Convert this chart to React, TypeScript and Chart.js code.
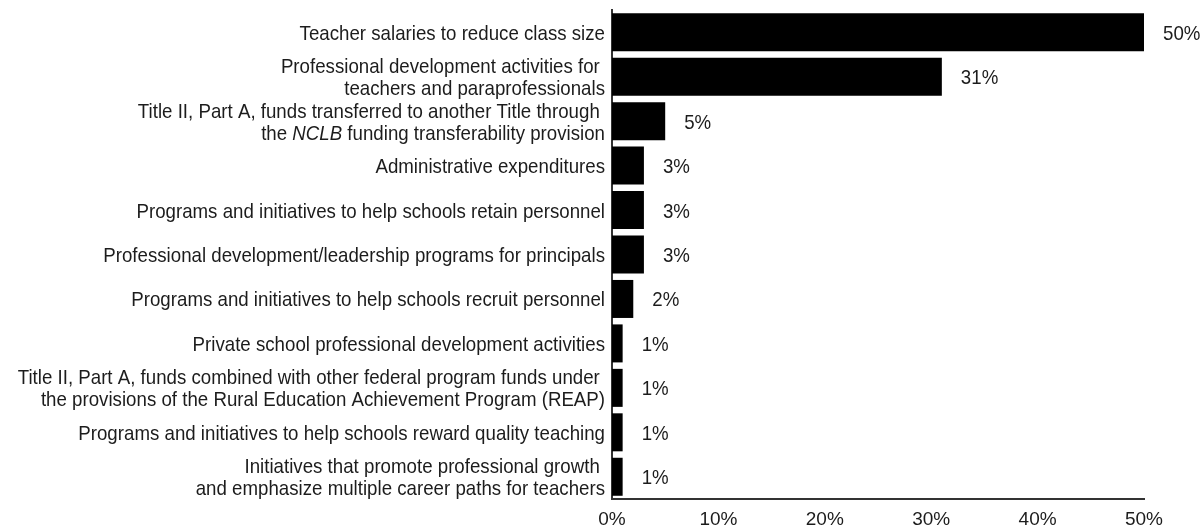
import React, { useEffect, useRef } from "react";
import { Chart, registerables } from "chart.js";

Chart.register(...registerables);

// Category labels (lines; text between underscores is italic)
const categories: string[][] = [
  ["Teacher salaries to reduce class size"],
  ["Professional development activities for ", "teachers and paraprofessionals"],
  ["Title II, Part A, funds transferred to another Title through ", "the _NCLB_ funding transferability provision"],
  ["Administrative expenditures"],
  ["Programs and initiatives to help schools retain personnel"],
  ["Professional development/leadership programs for principals"],
  ["Programs and initiatives to help schools recruit personnel"],
  ["Private school professional development activities"],
  ["Title II, Part A, funds combined with other federal program funds under ", "the provisions of the Rural Education Achievement Program (REAP)"],
  ["Programs and initiatives to help schools reward quality teaching"],
  ["Initiatives that promote professional growth ", "and emphasize multiple career paths for teachers"],
];

const values: number[] = [50, 31, 5, 3, 3, 3, 2, 1, 1, 1, 1];

const xMin = 0;
const xMax = 50;
const xStep = 10;

const TEXT = "#1c1c1c";
const FAMILY = '"Liberation Sans", Arial, Helvetica, sans-serif';

const richLabels = {
  id: "richLabels",
  afterDraw(chart: any) {
    const ctx: CanvasRenderingContext2D = chart.ctx;
    const ys = chart.scales.y;
    const xs = chart.scales.x;
    const sx = 0.89;
    const size = 21;
    const lh = 22;
    const capOff = 7.5;
    ctx.save();
    ctx.fillStyle = TEXT;
    ctx.textBaseline = "alphabetic";
    ctx.textAlign = "left";
    categories.forEach((lines, i) => {
      const yc = ys.getPixelForValue(i);
      const n = lines.length;
      lines.forEach((line, j) => {
        const base = yc + (j - (n - 1) / 2) * lh + capOff;
        const segs = line.split("_").map((t, k) => ({ t, it: k % 2 === 1 }));
        let w = 0;
        segs.forEach((s) => {
          ctx.font = `${s.it ? "italic " : ""}${size}px ${FAMILY}`;
          w += ctx.measureText(s.t).width;
        });
        ctx.save();
        ctx.translate(ys.right - 7, base);
        ctx.scale(sx, 1);
        let cx = -w;
        segs.forEach((s) => {
          ctx.font = `${s.it ? "italic " : ""}${size}px ${FAMILY}`;
          ctx.fillText(s.t, cx, 0);
          cx += ctx.measureText(s.t).width;
        });
        ctx.restore();
      });
      const xe = xs.getPixelForValue(values[i]);
      ctx.font = `${size}px ${FAMILY}`;
      ctx.save();
      ctx.translate(xe + 19, yc + capOff);
      ctx.scale(sx, 1);
      ctx.fillText(values[i] + "%", 0, 0);
      ctx.restore();
    });
    ctx.restore();
  },
};

export default function App() {
  const ref = useRef<HTMLCanvasElement | null>(null);
  useEffect(() => {
    if (!ref.current) return;
    const chart = new Chart(ref.current, {
      type: "bar",
      data: {
        labels: categories.map((l) => l.map((s) => s.replace(/_/g, ""))),
        datasets: [
          {
            data: values,
            backgroundColor: "#000000",
            borderWidth: 0,
            barPercentage: 0.855,
            categoryPercentage: 1,
          },
        ],
      },
      options: {
        indexAxis: "y",
        animation: false,
        responsive: false,
        maintainAspectRatio: false,
        layout: { padding: { top: 10, right: 59, left: 0, bottom: 0 } },
        plugins: {
          legend: { display: false },
          tooltip: { enabled: false },
        },
        scales: {
          y: {
            grid: { display: false, drawTicks: false },
            border: { display: true, color: "#333333", width: 2 },
            ticks: { display: false },
            afterFit(scale: any) {
              scale.width = 612;
            },
          },
          x: {
            min: xMin,
            max: xMax,
            grid: { display: false, drawTicks: false },
            border: { display: true, color: "#333333", width: 2 },
            ticks: {
              stepSize: xStep,
              padding: 9,
              color: TEXT,
              font: { family: FAMILY, size: 19 },
              callback: (v: any) => v + "%",
            },
            afterFit(scale: any) {
              scale.height = 30;
            },
          },
        },
      },
      plugins: [richLabels],
    });
    return () => chart.destroy();
  }, []);
  return (
    <div style={{ position: "fixed", left: 0, top: 0, width: 1203, height: 529, background: "#fff" }}>
      <canvas ref={ref} width={1203} height={529} style={{ display: "block" }} />
    </div>
  );
}
